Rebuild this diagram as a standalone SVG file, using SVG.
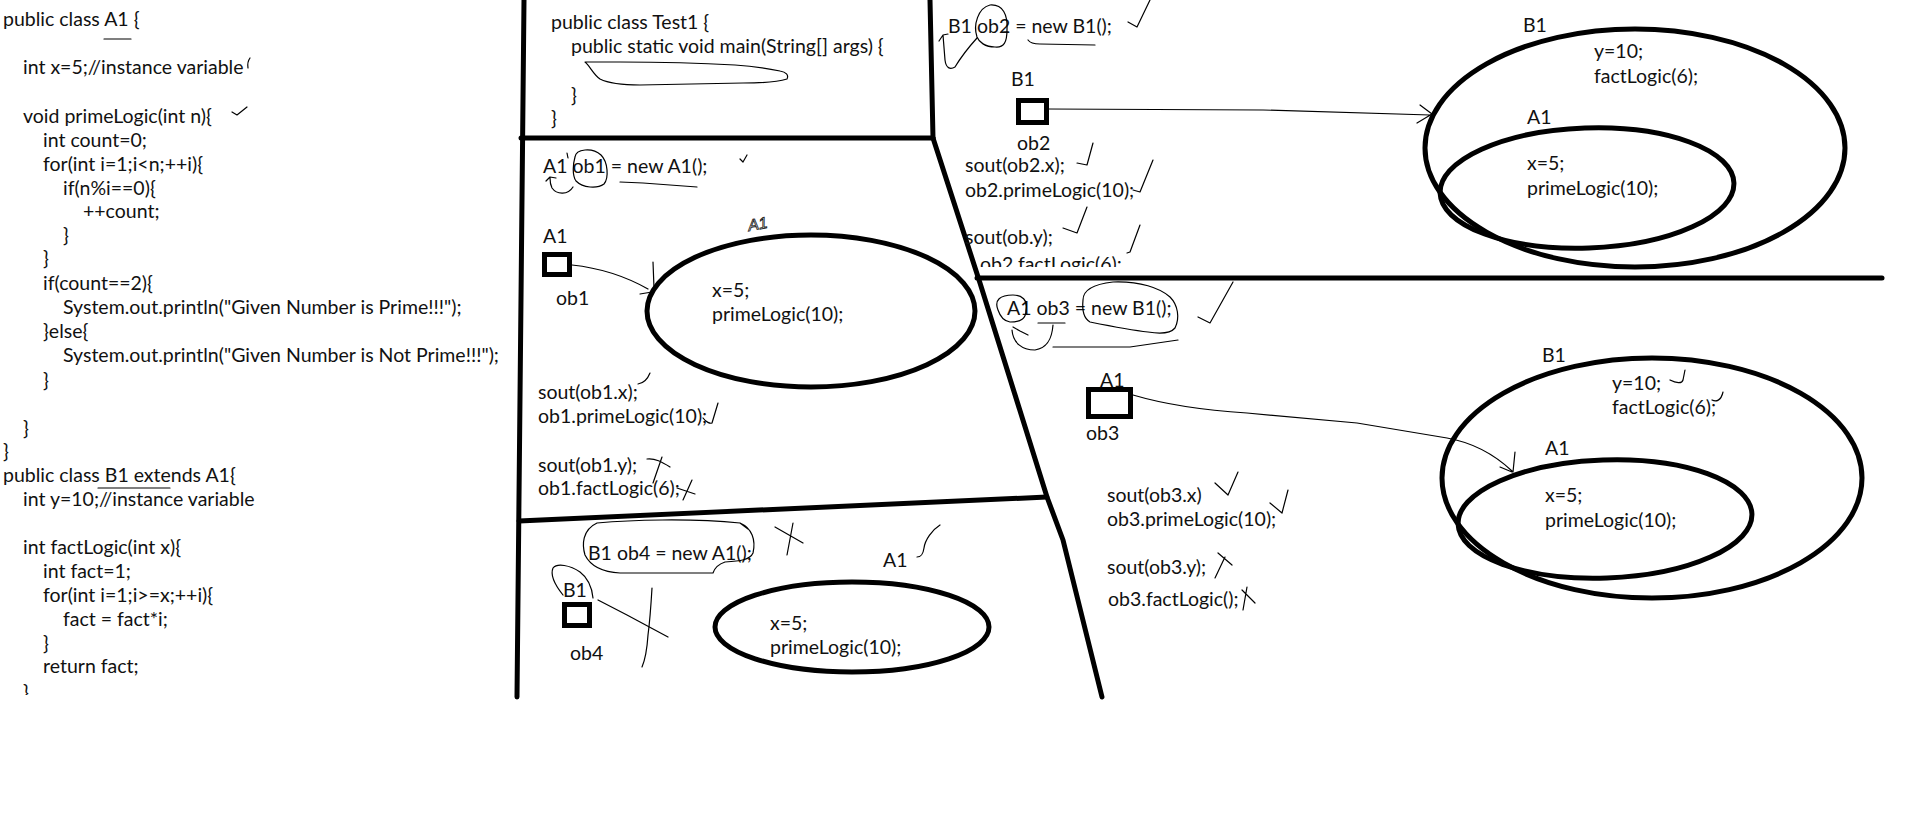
<svg xmlns="http://www.w3.org/2000/svg" width="1913" height="825" viewBox="0 0 1913 825">
<style>
.t{font-family:Lato,"Liberation Sans",sans-serif;font-size:19.5px;fill:#111}
.hw{font-family:"Liberation Sans",sans-serif;font-size:16px;font-style:italic;fill:none;stroke:#111;stroke-width:0.8}
.wall{stroke:#000;stroke-width:5;fill:none;stroke-linecap:round;stroke-linejoin:round}
.obj{stroke:#000;stroke-width:5;fill:none}
.ref{stroke:#000;stroke-width:5;fill:#fff}
.pen{stroke:#000;stroke-width:1.2;fill:none;stroke-linecap:round;stroke-linejoin:round}
.conn{stroke:#000;stroke-width:1.2;fill:none;stroke-linecap:round;stroke-linejoin:round}
</style>
<defs>
<clipPath id="clipBottom"><rect x="0" y="0" width="1913" height="695"/></clipPath>
<clipPath id="clipOb2"><rect x="900" y="200" width="400" height="67"/></clipPath>
</defs>
<rect width="1913" height="825" fill="#fff"/>

<g id="walls">
<path class="wall" d="M524,0 L517,697"/>
<path class="wall" d="M521,138 L933,138"/>
<path class="wall" d="M930,0 L933,138"/>
<path class="wall" d="M933,138 L980,283 L1047,497 L1063,540 L1102,697"/>
<path class="wall" d="M977,278 L1882,278"/>
<path class="wall" d="M519,521 L1047,497"/>
</g>

<g id="code-A1">
<text class="t" x="3" y="26">public class A1 {</text>
<path class="pen" d="M104,39 L131,39"/>
<text class="t" x="23" y="74">int x=5;//instance variable</text>
<path class="pen" d="M250,58 Q247,62 248,68"/>
<text class="t" x="23" y="123">void primeLogic(int n){</text>
<path class="pen" d="M232,112 L237,115 L247,107"/>
<text class="t" x="43" y="147">int count=0;</text>
<text class="t" x="43" y="171">for(int i=1;i&lt;n;++i){</text>
<text class="t" x="63" y="195">if(n%i==0){</text>
<text class="t" x="83" y="218">++count;</text>
<text class="t" x="63" y="242">}</text>
<text class="t" x="43" y="265">}</text>
<text class="t" x="43" y="290">if(count==2){</text>
<text class="t" x="63" y="314">System.out.println("Given Number is Prime!!!");</text>
<text class="t" x="43" y="338">}else{</text>
<text class="t" x="63" y="362">System.out.println("Given Number is Not Prime!!!");</text>
<text class="t" x="43" y="387">}</text>
<text class="t" x="23" y="435">}</text>
<text class="t" x="3" y="458">}</text>
</g>

<g id="code-B1">
<text class="t" x="3" y="482">public class B1 extends A1{</text>
<path class="pen" d="M98,488 L170,488"/>
<text class="t" x="23" y="506">int y=10;//instance variable</text>
<text class="t" x="23" y="554">int factLogic(int x){</text>
<text class="t" x="43" y="578">int fact=1;</text>
<text class="t" x="43" y="602">for(int i=1;i&gt;=x;++i){</text>
<text class="t" x="63" y="626">fact = fact*i;</text>
<text class="t" x="43" y="650">}</text>
<text class="t" x="43" y="673">return fact;</text>
<text class="t" x="23" y="699" clip-path="url(#clipBottom)">}</text>
</g>

<g id="panel-test1">
<text class="t" x="551" y="29">public class Test1 {</text>
<text class="t" x="571" y="53">public static void main(String[] args) {</text>
<path class="pen" d="M585,62 C590,66 593,74 600,79 C610,84 625,85 640,85 L743,83 C760,83 777,82 787,79 C789,75 786,72 780,71 C765,68 750,66 735,65 C700,63 660,62 620,62 Z"/>
<text class="t" x="571" y="102">}</text>
<text class="t" x="551" y="125">}</text>
</g>

<g id="panel-ob1">
<text class="t" x="543" y="173">A1 ob1 = new A1();</text>
<path class="pen" d="M575,157 C576,149 592,147 601,155 C608,162 609,178 604,184 C597,189 583,188 576,181 C572,175 573,164 575,157 Z"/>
<path class="pen" d="M567,153 L568,158"/>
<path class="pen" d="M573,187 C568,195 557,195 552,188 C550,184 550,180 550,178 M546,181 L550,177 L556,178"/>
<path class="pen" d="M620,182 L643,183 L697,187"/>
<path class="pen" d="M740,159 L743,162 L747,155"/>
<text class="hw" x="749" y="231" transform="rotate(-10 749 231)">A1</text>
<g id="ob1-ref"><text class="t" x="543" y="243">A1</text><rect class="ref" x="544.5" y="254.5" width="25" height="20"/><text class="t" x="556" y="305">ob1</text></g>
<g id="ob1-obj"><ellipse class="obj" cx="811" cy="311" rx="164" ry="76"/>
<text class="t" x="712" y="297">x=5;</text>
<text class="t" x="712" y="321">primeLogic(10);</text></g>
<text class="t" x="538" y="399">sout(ob1.x);</text>
<text class="t" x="538" y="423">ob1.primeLogic(10);</text>
<text class="t" x="538" y="472">sout(ob1.y);</text>
<text class="t" x="538" y="495">ob1.factLogic(6);</text>
<path class="pen" d="M638,384 C645,383 648,378 650,373"/>
<path class="pen" d="M703,418 C706,422 710,424 712,423 L718,403"/>
<path class="pen" d="M647,459 C655,458 662,462 670,467 M662,457 L653,483"/>
<path class="pen" d="M677,488 L695,494 M692,480 L683,500"/>
</g>

<g id="panel-ob4">
<text class="t" x="588" y="560">B1 ob4 = new A1();</text>
<path class="pen" d="M597,523 C630,520 690,518 740,523 C752,528 756,540 753,553 C750,560 740,561 725,562 C716,565 714,570 713,573 L620,573 C600,572 590,565 585,555 C582,545 582,530 597,523 Z M740,523 L748,529"/>
<path class="pen" d="M775,527 L803,543 M793,523 L787,555"/>
<path class="pen" d="M917,557 C921,557 923,555 924,548 C925,540 932,530 940,525"/>
<path class="pen" d="M563,595 C555,585 550,575 553,568 C557,563 570,565 580,572 C588,578 592,588 593,598"/>
<path class="pen" d="M598,600 L627,615 L668,637"/>
<path class="pen" d="M652,588 C651,605 650,620 648,635 C647,650 645,660 642,667"/>
<g id="ob4-ref"><text class="t" x="563" y="597">B1</text><rect class="ref" x="564.5" y="604.5" width="25" height="21"/><text class="t" x="570" y="660">ob4</text></g>
<g id="ob4-obj"><text class="t" x="883" y="567">A1</text><ellipse class="obj" cx="852" cy="627" rx="137" ry="45"/>
<text class="t" x="770" y="630">x=5;</text>
<text class="t" x="770" y="654">primeLogic(10);</text></g>
</g>

<g id="panel-ob2">
<text class="t" x="948" y="33">B1 ob2 = new B1();</text>
<path class="pen" d="M977,37 C973,25 978,8 990,5 C1003,4 1008,15 1007,30 C1007,42 1004,48 995,47 C985,47 979,42 977,37 Z"/>
<path class="pen" d="M977,38 C968,48 958,62 955,67 C950,70 946,68 945,60 L943,35 M939,41 L943,35 L948,34"/>
<path class="pen" d="M1028,40 C1030,43 1034,44 1040,44 L1095,45"/>
<path class="pen" d="M1128,22 L1137,27 L1150,0"/>
<g id="ob2-ref"><text class="t" x="1011" y="86">B1</text><rect class="ref" x="1018.5" y="100.5" width="28" height="22"/><text class="t" x="1017" y="150">ob2</text></g>
<text class="t" x="965" y="172">sout(ob2.x);</text>
<text class="t" x="965" y="197">ob2.primeLogic(10);</text>
<text class="t" x="965" y="244">sout(ob.y);</text>
<text class="t" x="980" y="271" clip-path="url(#clipOb2)">ob2.factLogic(6);</text>
<path class="pen" d="M1077,163 L1087,165 L1093,143"/>
<path class="pen" d="M1133,190 L1140,192 L1153,160"/>
<path class="pen" d="M1063,228 L1077,233 L1087,207"/>
<path class="pen" d="M1127,253 L1130,252 L1140,225"/>
<g id="ob2-obj">
<text class="t" x="1523" y="32">B1</text>
<ellipse class="obj" cx="1635" cy="148" rx="210" ry="119"/>
<text class="t" x="1594" y="58">y=10;</text>
<text class="t" x="1594" y="83">factLogic(6);</text>
<text class="t" x="1527" y="124">A1</text>
<ellipse class="obj" cx="1587" cy="188" rx="147" ry="60" transform="rotate(-2 1587 188)"/>
<text class="t" x="1527" y="170">x=5;</text>
<text class="t" x="1527" y="195">primeLogic(10);</text>
</g>
</g>

<g id="panel-ob3">
<text class="t" x="1007" y="315">A1 ob3 = new B1();</text>
<path class="pen" d="M998,310 C994,300 1000,295 1013,295 C1022,295 1028,300 1026,310 C1026,318 1022,322 1010,322 C1003,321 1000,316 998,310 Z"/>
<path class="pen" d="M1083,300 C1083,290 1095,284 1113,282 C1140,281 1160,288 1170,297 C1178,305 1180,318 1175,328 C1170,334 1160,334 1148,332 C1130,330 1110,326 1090,322 C1083,318 1082,310 1083,300 Z"/>
<path class="pen" d="M1038,323 L1065,323"/>
<path class="pen" d="M1053,325 C1052,338 1048,348 1035,350 C1022,350 1013,343 1012,330 M1013,327 L1020,331 L1028,335"/>
<path class="pen" d="M1053,347 L1130,347 L1178,340"/>
<path class="pen" d="M1198,317 L1210,323 L1233,282"/>
<g id="ob3-ref"><text class="t" x="1100" y="387">A1</text><rect class="ref" x="1088.5" y="389.5" width="42" height="27"/><text class="t" x="1086" y="440">ob3</text></g>
<text class="t" x="1107" y="502">sout(ob3.x)</text>
<text class="t" x="1107" y="526">ob3.primeLogic(10);</text>
<text class="t" x="1107" y="574">sout(ob3.y);</text>
<text class="t" x="1108" y="606">ob3.factLogic();</text>
<path class="pen" d="M1215,483 L1228,495 L1238,472"/>
<path class="pen" d="M1270,503 L1282,513 L1288,490"/>
<path class="pen" d="M1218,553 L1232,565 M1225,557 L1215,578"/>
<path class="pen" d="M1242,590 L1255,603 M1247,587 L1243,610"/>
<g id="ob3-obj">
<text class="t" x="1542" y="362">B1</text>
<ellipse class="obj" cx="1652" cy="478" rx="210" ry="120"/>
<text class="t" x="1612" y="390">y=10;</text>
<text class="t" x="1612" y="414">factLogic(6);</text>
<path class="pen" d="M1670,380 C1676,383 1682,384 1683,380 L1685,370"/>
<path class="pen" d="M1712,400 C1716,402 1721,401 1723,392"/>
<text class="t" x="1545" y="455">A1</text>
<ellipse class="obj" cx="1605" cy="519" rx="147" ry="59" transform="rotate(-2 1605 519)"/>
<text class="t" x="1545" y="502">x=5;</text>
<text class="t" x="1545" y="527">primeLogic(10);</text>
</g>
</g>

<g id="connectors">
<path class="conn" d="M572,265 C600,268 625,276 648,289 M653,262 L654,288 M640,294 L652,292"/>
<path class="conn" d="M1047,109 L1263,110 L1430,115 M1420,105 L1432,114 L1417,123"/>
<path class="conn" d="M1133,395 C1160,403 1200,410 1247,413 L1357,423 L1447,438 C1475,443 1495,455 1512,471 M1515,452 L1513,472 M1500,467 L1512,472"/>
</g>
</svg>
